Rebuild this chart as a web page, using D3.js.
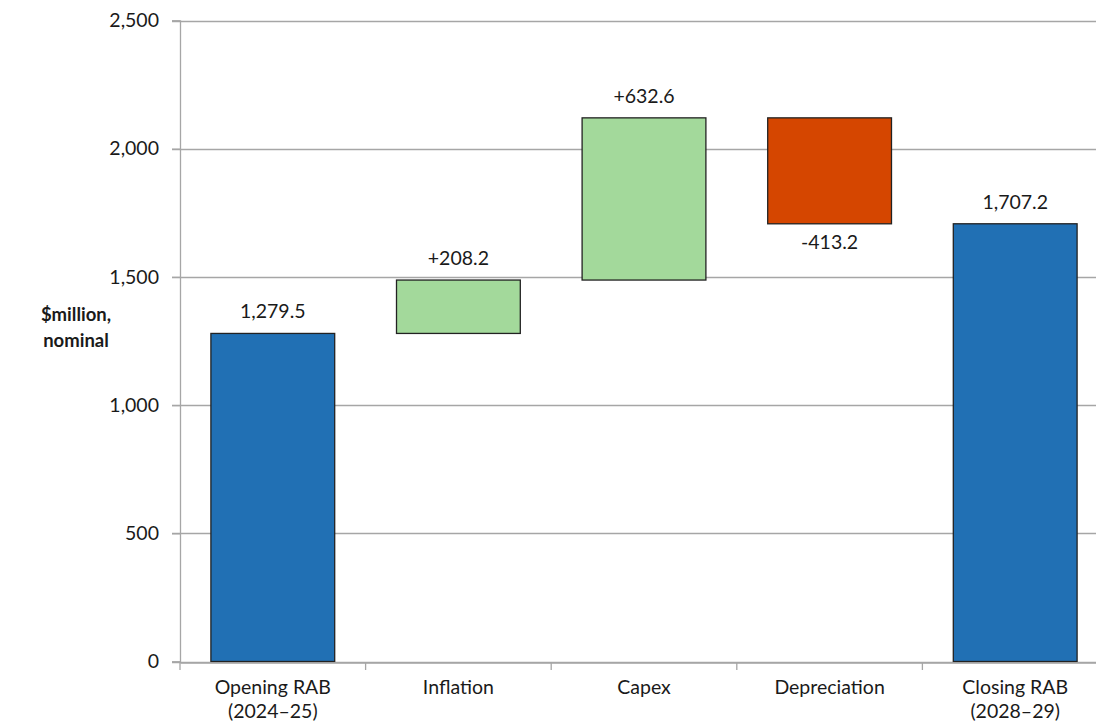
<!DOCTYPE html>
<html>
<head>
<meta charset="utf-8">
<script src="https://cdn.jsdelivr.net/npm/d3@7"></script>
<style>
  html, body { margin: 0; padding: 0; background: #ffffff; }
  svg { display: block; }
  text { font-family: Lato, "Open Sans", sans-serif; fill: #1a1a1a; }
</style>
</head>
<body>
<svg id="chart" width="1096" height="724"></svg>
<script>
// RAB roll-forward, $million nominal
const categories = ["Opening RAB|(2024–25)", "Inflation", "Capex", "Depreciation", "Closing RAB|(2028–29)"];
const kinds = ["total", "delta", "delta", "delta", "total"];
const values = [1279.5, 208.2, 632.6, -413.2, 1707.2];
const labels = ["1,279.5", "+208.2", "+632.6", "-413.2", "1,707.2"];
const yTicks = [0, 500, 1000, 1500, 2000, 2500];

const colours = { total: "#2170b4", up: "#a3d99b", down: "#d54600" };

const svg = d3.select("#chart");
const margin = { left: 180, top: 20.5, bottom: 62.5 };
const plotRight = 1108;
const H = 724;
const fontSize = 19.5;

const x = d3.scaleBand().domain(categories).range([margin.left, plotRight]).padding(0);
const y = d3.scaleLinear().domain([0, 2500]).range([H - margin.bottom, margin.top]);
const barW = x.step() * 0.667;

// floating bars: totals start at zero, changes start at the running sum
let running = 0;
const bars = categories.map((c, i) => {
  let lo, hi, fill;
  if (kinds[i] === "total") {
    lo = 0; hi = values[i]; running = values[i]; fill = colours.total;
  } else {
    const start = running;
    running = start + values[i];
    lo = Math.min(start, running); hi = Math.max(start, running);
    fill = values[i] >= 0 ? colours.up : colours.down;
  }
  return { c, lo, hi, fill, v: values[i], label: labels[i] };
});

// gridlines
svg.append("g")
  .selectAll("line")
  .data(yTicks)
  .join("line")
  .attr("x1", margin.left - 8)
  .attr("x2", plotRight)
  .attr("y1", d => Math.round(y(d)) + 0.5)
  .attr("y2", d => Math.round(y(d)) + 0.5)
  .attr("stroke", "#a6a6a6")
  .attr("stroke-width", 1.3);

// y axis
const yAxis = svg.append("g")
  .attr("transform", `translate(${margin.left},0)`)
  .call(d3.axisLeft(y).tickValues(yTicks).tickFormat(d3.format(",")).tickSize(8).tickPadding(13));
yAxis.select(".domain").attr("stroke", "#a6a6a6").attr("stroke-width", 1.3);
yAxis.selectAll(".tick line").attr("stroke", "#a6a6a6").attr("stroke-width", 1.3);
yAxis.selectAll(".tick text")
  .attr("font-family", "Lato, sans-serif")
  .attr("font-size", fontSize)
  .attr("fill", "#1a1a1a");

// bars
svg.append("g")
  .selectAll("rect")
  .data(bars)
  .join("rect")
  .attr("x", d => x(d.c) + (x.step() - barW) / 2)
  .attr("width", barW)
  .attr("y", d => y(d.hi))
  .attr("height", d => y(d.lo) - y(d.hi))
  .attr("fill", d => d.fill)
  .attr("stroke", "#222222")
  .attr("stroke-width", 1.3);

// x axis
const xAxis = svg.append("g")
  .attr("transform", `translate(0,${Math.round(y(0)) + 0.5})`)
  .call(d3.axisBottom(x).tickSize(0).tickFormat(""));
xAxis.select(".domain").attr("stroke", "#a6a6a6").attr("stroke-width", 1.3);
xAxis.selectAll(".tick").remove();

// boundary ticks between categories
svg.append("g")
  .selectAll("line")
  .data(d3.range(categories.length + 1))
  .join("line")
  .attr("x1", i => margin.left + i * x.step())
  .attr("x2", i => margin.left + i * x.step())
  .attr("y1", Math.round(y(0)))
  .attr("y2", Math.round(y(0)) + 8)
  .attr("stroke", "#a6a6a6")
  .attr("stroke-width", 1.3);

// category labels (two lines where needed)
const catG = svg.append("g")
  .selectAll("text")
  .data(categories)
  .join("text")
  .attr("text-anchor", "middle")
  .attr("font-size", fontSize)
  .attr("x", d => x(d) + x.step() / 2)
  .attr("y", y(0) + 32);
catG.selectAll("tspan")
  .data(d => d.split("|").map(s => ({ s, cx: x(d) + x.step() / 2 })))
  .join("tspan")
  .attr("x", d => d.cx)
  .attr("dy", (d, i) => i === 0 ? 0 : 24)
  .text(d => d.s);

// value labels: above rising / total bars, below falling bars
svg.append("g")
  .selectAll("text")
  .data(bars)
  .join("text")
  .attr("text-anchor", "middle")
  .attr("font-size", fontSize)
  .attr("x", d => x(d.c) + x.step() / 2)
  .attr("y", d => d.v >= 0 ? y(d.hi) - 15 : y(d.lo) + 25)
  .text(d => d.label);

// y axis title
svg.append("text")
  .attr("text-anchor", "middle")
  .attr("font-size", 18.5)
  .attr("font-weight", "bold")
  .selectAll("tspan")
  .data(["$million,", "nominal"])
  .join("tspan")
  .attr("x", 76)
  .attr("y", (d, i) => 321 + i * 26)
  .text(d => d);
</script>
</body>
</html>
